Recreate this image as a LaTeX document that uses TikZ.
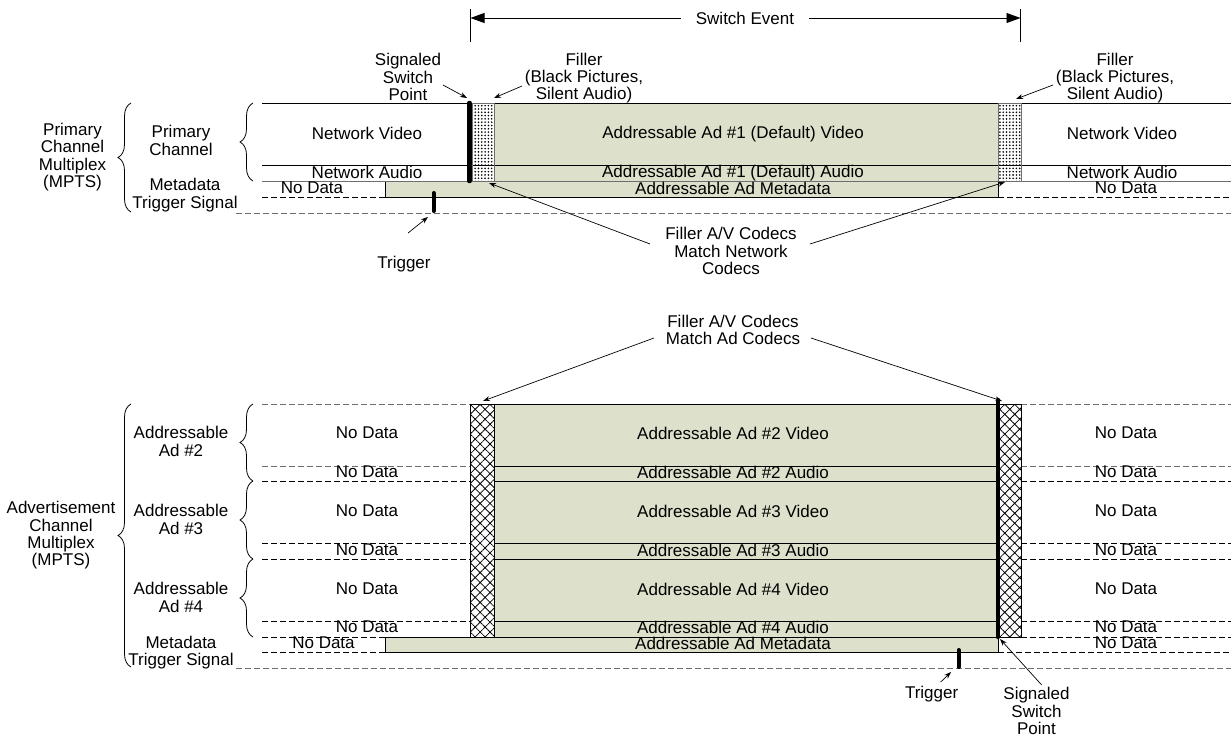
\documentclass[tikz,border=0pt]{standalone}
\usepackage{fontspec}
\setmainfont{Liberation Sans}
\usetikzlibrary{arrows.meta,patterns,patterns.meta,decorations.pathreplacing}
\definecolor{adgreen}{RGB}{221,224,202}
\definecolor{lgray}{RGB}{110,110,110}
\begin{document}
\begin{tikzpicture}[x=1pt,y=-1pt,
  txt/.style={inner sep=0pt,align=center,font=\fontsize{17}{17.3}\selectfont},
  solidln/.style={line width=0.8pt},
  gsolidln/.style={line width=0.8pt,draw=lgray},
  dashln/.style={line width=0.8pt,dash pattern=on 6pt off 3pt},
  gdashln/.style={dashln,draw=lgray},
  greenbox/.style={fill=adgreen,draw=black,line width=0.8pt},
  dotfill/.style={pattern={Dots[distance=3.3pt,radius=0.9pt]},draw=lgray,line width=0.6pt},
  xfill/.style={pattern={Hatch[angle=45,distance=7pt,line width=0.8pt]},draw=black,line width=0.6pt},
  thickbar/.style={line width=4.5pt,line cap=round},
  trigbar/.style={line width=4pt,line cap=round},
  callout/.style={line width=0.7pt,-{Stealth[length=7pt,width=5pt]}},
  bigarrow/.style={line width=0.8pt,-{Triangle[length=14pt,width=10pt]}},
  bracelr/.style={line width=0.8pt,decorate,decoration={brace,amplitude=13pt}},
]
\useasboundingbox (0,0) rectangle (1231,736);

%% ================= TOP SECTION =================
% switch event
\coordinate (tL1) at (470.5,9); \coordinate (tL2) at (470.5,42);
\coordinate (tR1) at (1020.5,9); \coordinate (tR2) at (1020.5,42);
\draw[solidln] (tL1) -- (tL2);
\draw[solidln] (tR1) -- (tR2);
\coordinate (aL) at (470.5,18); \coordinate (aR) at (1020.5,18);
\node[txt,inner xsep=15pt] (sw) at (745,18) {Switch Event};
\draw[bigarrow] (sw.west) -- (aL);
\draw[bigarrow] (sw.east) -- (aR);

% green regions
\fill[adgreen] (494,103) rectangle (998,181);
\draw[greenbox] (385,181) rectangle (998,197);

% lines
\draw[solidln] (262,103) -- (1231,103);
\draw[solidln] (262,165) -- (1231,165);
\draw[gsolidln] (262,181) -- (1231,181);
\draw[dashln] (262,197) -- (385,197);
\draw[dashln] (998,197) -- (1231,197);
\draw[gdashln] (236,213) -- (1231,213);
\draw[solidln] (998,103) -- (998,181);

% fillers
\draw[dotfill] (472,103) rectangle (494,181);
\draw[dotfill] (998,103) rectangle (1021,181);
\draw[thickbar] (469.5,103) -- (469.5,181);
\draw[trigbar] (433.5,193) -- (433.5,211);

% braces
\draw[bracelr] (131,212) -- (131,103);
\draw[bracelr] (253,181) -- (253,103);

% texts
\node[txt] (pcm) at (72.5,157) {Primary\\Channel\\Multiplex\\(MPTS)};
\node[txt] (pc) at (181,140.5) {Primary\\Channel};
\node[txt] (md1) at (185,195) {Metadata\\Trigger Signal};
\node[txt] (nv1) at (367,133) {Network Video};
\node[txt] (na1) at (367,172) {Network Audio};
\node[txt] (nd1) at (312,188) {No Data};
\node[txt] (av1) at (733,134.5) {Addressable Ad \#1 (Default) Video};
\node[txt] (aa1) at (733,173.5) {Addressable Ad \#1 (Default) Audio};
\node[txt] (am1) at (733,188) {Addressable Ad Metadata};
\node[txt] (nv2) at (1122,133) {Network Video};
\node[txt] (na2) at (1122,172) {Network Audio};
\node[txt] (nd2) at (1126,188) {No Data};

\node[txt] (ssp1) at (408,77) {Signaled\\Switch\\Point};
\node[txt] (fil1) at (584,78) {Filler\\(Black Pictures,\\Silent Audio)};
\node[txt] (fil2) at (1115,78) {Filler\\(Black Pictures,\\Silent Audio)};
\node[txt] (trig1) at (404,264) {Trigger};
\node[txt] (fc1) at (731,251) {Filler A/V Codecs\\Match Network\\Codecs};

\coordinate (ssp1a) at (443,85); \coordinate (ssp1b) at (467,98);
\coordinate (fil1a) at (522,86); \coordinate (fil1b) at (494,98);
\coordinate (fil2a) at (1053,85); \coordinate (fil2b) at (1016,99);
\coordinate (trig1a) at (408,233); \coordinate (trig1b) at (428,217);
\coordinate (fc1a) at (650,244); \coordinate (fc1b) at (489,183);
\coordinate (fc1c) at (810,244); \coordinate (fc1d) at (1005,182);
\draw[callout] (ssp1a) -- (ssp1b);
\draw[callout] (fil1a) -- (fil1b);
\draw[callout] (fil2a) -- (fil2b);
\draw[callout] (trig1a) -- (trig1b);
\draw[callout] (fc1a) -- (fc1b);
\draw[callout] (fc1c) -- (fc1d);

%% ================= AD SECTION =================
\fill[adgreen] (494,404) rectangle (998,637);
\draw[solidln] (494,404) -- (998,404);
\foreach \yy in {466,481,543,559,621,637}{
  \draw[solidln] (494,\yy) -- (998,\yy);
}
\draw[greenbox] (385,637) rectangle (998,652);

% left dashed lines
\draw[gdashln] (262,404) -- (470,404);
\draw[gdashln] (262,466) -- (470,466);
\draw[dashln] (262,481) -- (470,481);
\draw[dashln] (262,543) -- (470,543);
\draw[dashln] (262,559) -- (470,559);
\draw[dashln] (262,621) -- (470,621);
\draw[dashln] (262,637) -- (385,637);
\draw[dashln] (262,652) -- (385,652);
% right dashed lines
\draw[gdashln] (1021,404) -- (1231,404);
\draw[gdashln] (1021,466) -- (1231,466);
\draw[dashln] (1021,481) -- (1231,481);
\draw[dashln] (1021,543) -- (1231,543);
\draw[dashln] (1021,559) -- (1231,559);
\draw[dashln] (1021,621) -- (1231,621);
\draw[dashln] (1021,637) -- (1231,637);
\draw[dashln] (998,652) -- (1231,652);
\draw[gdashln] (236,668) -- (1231,668);

% fillers
\draw[xfill] (470.5,404) rectangle (494,637);
\draw[xfill] (999,404) rectangle (1021,637);
\draw[thickbar] (998,400) -- (998,637);
\draw[trigbar] (958.5,650) -- (958.5,667);

% braces
\draw[bracelr] (131,667) -- (131,404);
\draw[bracelr] (253,481) -- (253,404);
\draw[bracelr] (253,559) -- (253,481);
\draw[bracelr] (253,637) -- (253,559);

% texts
\node[txt] (acm) at (61,535.5) {Advertisement\\Channel\\Multiplex\\(MPTS)};
\node[txt] (ad2) at (181,441.5) {Addressable\\Ad \#2};
\node[txt] (ad3) at (181,519.5) {Addressable\\Ad \#3};
\node[txt] (ad4) at (181,597.5) {Addressable\\Ad \#4};
\node[txt] (md2) at (181,652.5) {Metadata\\Trigger Signal};

\node[txt] (lnd1) at (367,433) {No Data};
\node[txt] (lnd2) at (367,472) {No Data};
\node[txt] (lnd3) at (367,511) {No Data};
\node[txt] (lnd4) at (367,550) {No Data};
\node[txt] (lnd5) at (367,589) {No Data};
\node[txt] (lnd6) at (367,627) {No Data};
\node[txt] (lnd7) at (323.5,643) {No Data};

\node[txt] (g1) at (733,433) {Addressable Ad \#2 Video};
\node[txt] (g2) at (733,472) {Addressable Ad \#2 Audio};
\node[txt] (g3) at (733,511) {Addressable Ad \#3 Video};
\node[txt] (g4) at (733,550) {Addressable Ad \#3 Audio};
\node[txt] (g5) at (733,589) {Addressable Ad \#4 Video};
\node[txt] (g6) at (733,627) {Addressable Ad \#4 Audio};
\node[txt] (g7) at (733,643) {Addressable Ad Metadata};

\node[txt] (rnd1) at (1126,433) {No Data};
\node[txt] (rnd2) at (1126,472) {No Data};
\node[txt] (rnd3) at (1126,511) {No Data};
\node[txt] (rnd4) at (1126,550) {No Data};
\node[txt] (rnd5) at (1126,589) {No Data};
\node[txt] (rnd6) at (1126,627) {No Data};
\node[txt] (rnd7) at (1126,643) {No Data};

\node[txt] (fc2) at (733,330) {Filler A/V Codecs\\Match Ad Codecs};
\node[txt] (trig2) at (931.6,694) {Trigger};
\node[txt] (ssp2) at (1036.5,711) {Signaled\\Switch\\Point};

\coordinate (fc2a) at (654,338); \coordinate (fc2b) at (483,401);
\coordinate (fc2c) at (811,338); \coordinate (fc2d) at (1002,401);
\coordinate (trig2a) at (940.7,682); \coordinate (trig2b) at (951,672);
\coordinate (ssp2a) at (1041.7,685); \coordinate (ssp2b) at (1000,639);
\draw[callout] (fc2a) -- (fc2b);
\draw[callout] (fc2c) -- (fc2d);
\draw[callout] (trig2a) -- (trig2b);
\draw[callout] (ssp2a) -- (ssp2b);
\end{tikzpicture}
\end{document}
